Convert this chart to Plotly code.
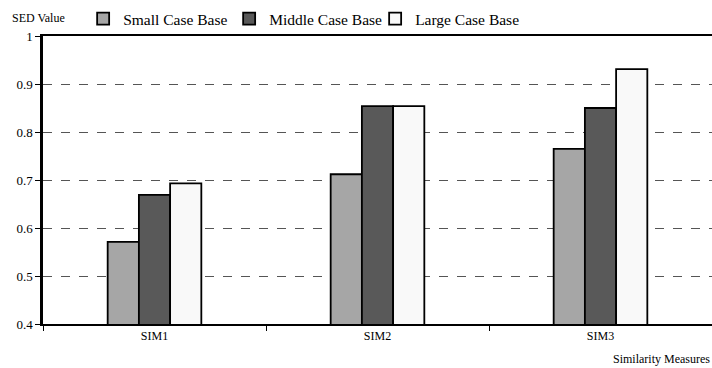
import plotly.graph_objects as go

categories = ["SIM1", "SIM2", "SIM3"]
series_names = ["Small Case Base", "Middle Case Base", "Large Case Base"]
small_vals = [0.571, 0.712, 0.765]
middle_vals = [0.669, 0.854, 0.850]
large_vals = [0.693, 0.854, 0.931]
colors = ["#a6a6a6", "#595959", "#f9f9f9"]
y_ticks = [0.4, 0.5, 0.6, 0.7, 0.8, 0.9, 1]
y_tick_text = ["0.4", "0.5", "0.6", "0.7", "0.8", "0.9", "1"]

FONT = "'Times New Roman', Times, 'Liberation Serif', serif"

fig = go.Figure()
for name, vals, col in zip(series_names, [small_vals, middle_vals, large_vals], colors):
    fig.add_trace(go.Bar(
        x=categories, y=vals, name=name,
        marker=dict(color=col, line=dict(color="black", width=1.8)),
    ))

fig.update_layout(
    width=712, height=368,
    margin=dict(l=43, r=0, t=36, b=44),
    paper_bgcolor="white", plot_bgcolor="white",
    barmode="group", bargap=0.58, bargroupgap=0,
    font=dict(family=FONT, color="black", size=12),
    showlegend=True,
    legend=dict(
        orientation="h", x=0.06, xanchor="left", y=1.0, yanchor="bottom",
        font=dict(family=FONT, size=15.5, color="black"),
        entrywidth=101, entrywidthmode="pixels",
        itemwidth=30, tracegroupgap=0,
        bgcolor="rgba(0,0,0,0)",
    ),
    xaxis=dict(
        type="category",
        showline=True, linecolor="black", linewidth=2, mirror=True,
        ticks="outside", tickson="boundaries", ticklen=5, tickcolor="black",
        tickfont=dict(family=FONT, size=12),
        showgrid=False, zeroline=False,
    ),
    yaxis=dict(
        range=[0.4, 1.0],
        tickvals=y_ticks, ticktext=y_tick_text,
        showline=True, linecolor="black", linewidth=2.5,
        ticks="outside", ticklen=5, tickcolor="black",
        tickfont=dict(family=FONT, size=13),
        showgrid=True, gridcolor="#555555", gridwidth=1, griddash="dash",
        zeroline=False,
    ),
    annotations=[
        dict(text="SED Value", xref="paper", yref="paper", x=-0.05, y=1.0,
             xanchor="left", yanchor="bottom", yshift=9, showarrow=False,
             font=dict(family=FONT, size=12)),
        dict(text="Similarity Measures", xref="paper", yref="paper", x=1.0, y=0,
             xanchor="right", yanchor="top", yshift=-26, showarrow=False,
             font=dict(family=FONT, size=12)),
    ],
)

fig.write_html("out.html", config={"displayModeBar": False},
               post_script="document.body.style.margin='0';document.body.style.padding='0';")
